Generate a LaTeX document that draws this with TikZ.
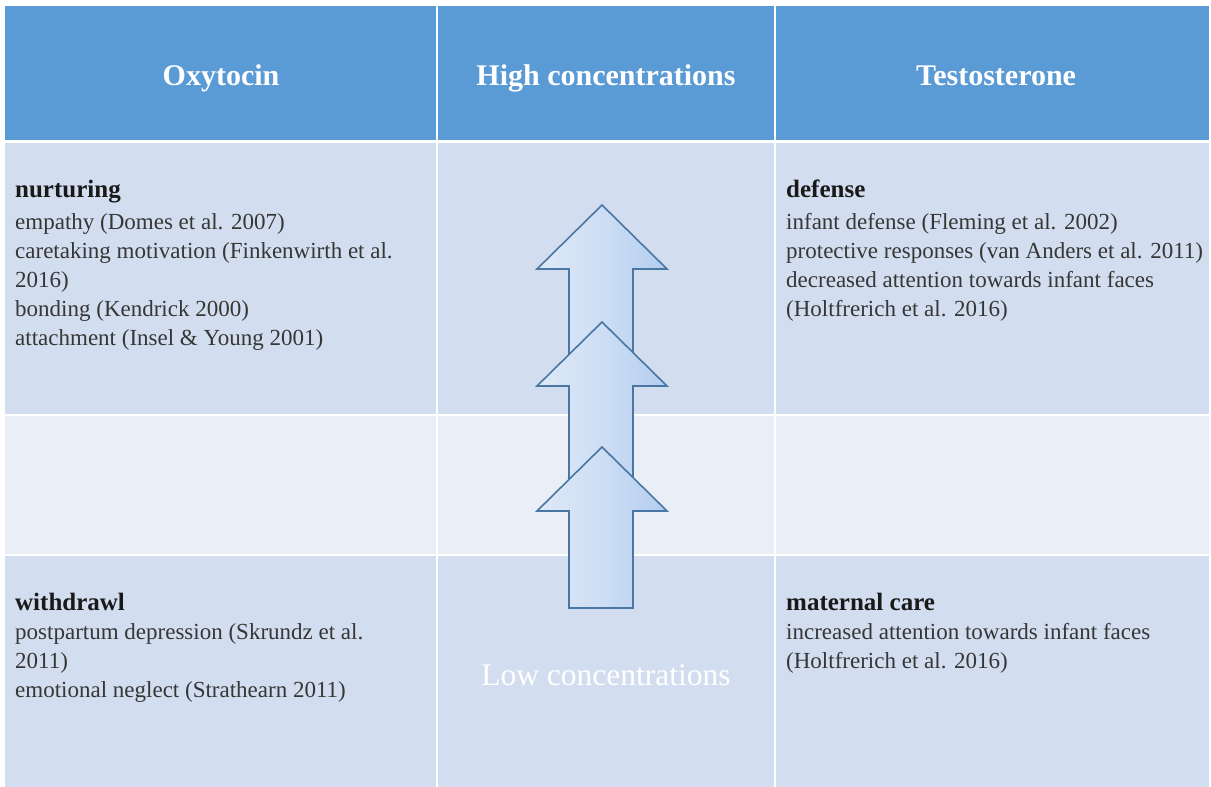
\documentclass[tikz,border=0pt]{standalone}
\usepackage{fontspec}
\setmainfont{Liberation Serif}
\definecolor{hdr}{HTML}{5B9BD5}
\definecolor{banddark}{HTML}{D2DEEF}
\definecolor{bandlight}{HTML}{EAEFF7}
\definecolor{bodytext}{HTML}{363636}
\definecolor{arrline}{HTML}{4A76A4}
\definecolor{arrlight}{HTML}{DFE9F7}
\definecolor{arrdark}{HTML}{B3CDF0}
\newcommand\myuparrow[1]{%
  \path[arrowbox] (602,#1) -- (667,{#1+64}) -- (633,{#1+64}) -- (633,{#1+161})
    -- (569,{#1+161}) -- (569,{#1+64}) -- (537,{#1+64}) -- cycle;}
\begin{document}
\begin{tikzpicture}[x=1pt,y=-1pt,
  hdrtext/.style={anchor=base,text=white,font=\fontsize{30}{36}\selectfont\bfseries,inner sep=0pt},
  lowtext/.style={anchor=base,text=white,font=\fontsize{31.5}{36}\selectfont,inner sep=0pt},
  celltitle/.style={anchor=base west,inner sep=0pt,text=black!90,font=\fontsize{25}{30}\selectfont\bfseries},
  cellline/.style={anchor=base west,inner sep=0pt,text=bodytext,font=\fontsize{23}{29}\selectfont},
  gridline/.style={white,line width=1.6pt},
  arrowbox/.style={draw=arrline,line width=1.6pt,line join=miter,left color=arrlight,right color=arrdark,middle color=arrlight!60!arrdark}]
\useasboundingbox (0,0) rectangle (1211,787);
\fill[white] (0,0) rectangle (1211,787);
% bands
\fill[hdr] (5,6) rectangle (1209,141);
\fill[banddark] (5,141) rectangle (1209,415);
\fill[bandlight] (5,415) rectangle (1209,555);
\fill[banddark] (5,555) rectangle (1209,787);
% grid lines
\draw[white,line width=3pt] (5,141) -- (1209,141);
\draw[gridline] (5,415) -- (1209,415);
\draw[gridline] (5,555) -- (1209,555);
\draw[gridline] (437,6) -- (437,787);
\draw[gridline] (775,6) -- (775,787);
% header
\node[hdrtext] (hox) at (221,85) {Oxytocin};
\node[hdrtext] (hhigh) at (606,85) {High concentrations};
\node[hdrtext] (hte) at (996,85) {Testosterone};
% arrows
\myuparrow{205}
\myuparrow{322}
\myuparrow{447}
% low concentrations
\node[lowtext] (low) at (606,685) {Low concentrations};
% nurturing
\node[celltitle] (nt) at (15,197) {nurturing};
\node[cellline] (n1) at (15,229) {empathy (Domes et al. 2007)};
\node[cellline] (n2) at (15,258) {caretaking motivation (Finkenwirth et al.};
\node[cellline] (n3) at (15,287) {2016)};
\node[cellline] (n4) at (15,316) {bonding (Kendrick 2000)};
\node[cellline] (n5) at (15,345) {attachment (Insel \& Young 2001)};
% defense
\node[celltitle] (dt) at (786,197) {defense};
\node[cellline] (d1) at (786,229) {infant defense (Fleming et al. 2002)};
\node[cellline] (d2) at (786,258) {protective responses (van Anders et al. 2011)};
\node[cellline] (d3) at (786,287) {decreased attention towards infant faces};
\node[cellline] (d4) at (786,316) {(Holtfrerich et al. 2016)};
% withdrawl
\node[celltitle] (wt) at (15,610) {withdrawl};
\node[cellline] (w1) at (15,639) {postpartum depression (Skrundz et al.};
\node[cellline] (w2) at (15,668) {2011)};
\node[cellline] (w3) at (15,697) {emotional neglect (Strathearn 2011)};
% maternal care
\node[celltitle] (mt) at (786,610) {maternal care};
\node[cellline] (m1) at (786,639) {increased attention towards infant faces};
\node[cellline] (m2) at (786,668) {(Holtfrerich et al. 2016)};
\end{tikzpicture}
\end{document}
